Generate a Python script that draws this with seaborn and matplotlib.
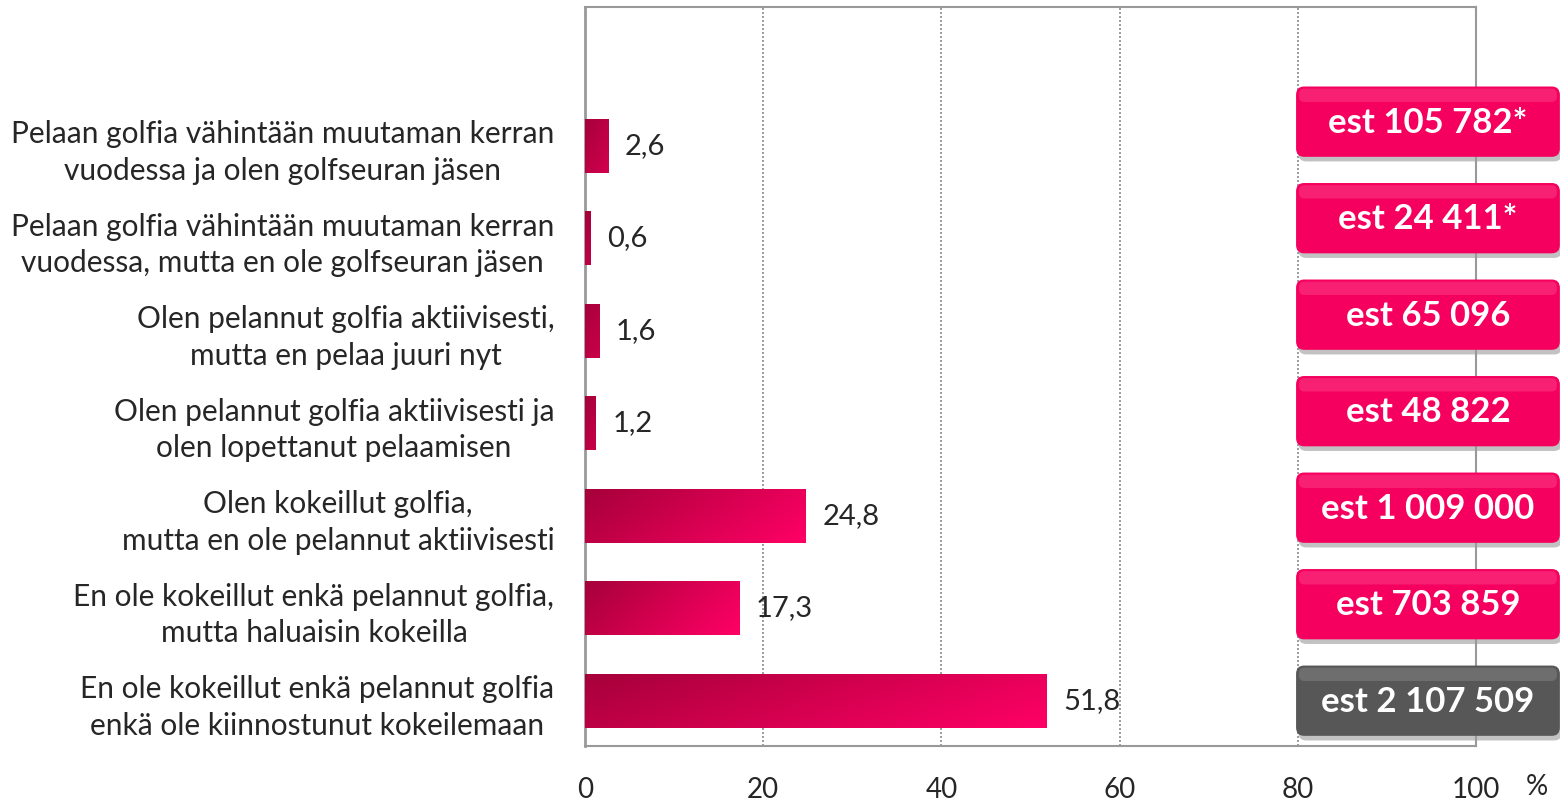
import numpy as np
import pandas as pd
import seaborn as sns
import matplotlib.pyplot as plt
from matplotlib.patches import FancyBboxPatch
from matplotlib.colors import LinearSegmentedColormap

# Data
kategoriat = [
    "Pelaan golfia vähintään muutaman kerran\nvuodessa ja olen golfseuran jäsen",
    "Pelaan golfia vähintään muutaman kerran\nvuodessa, mutta en ole golfseuran jäsen",
    "Olen pelannut golfia aktiivisesti,\nmutta en pelaa juuri nyt",
    "Olen pelannut golfia aktiivisesti ja\nolen lopettanut pelaamisen",
    "Olen kokeillut golfia,\nmutta en ole pelannut aktiivisesti",
    "En ole kokeillut enkä pelannut golfia,\nmutta haluaisin kokeilla",
    "En ole kokeillut enkä pelannut golfia\nenkä ole kiinnostunut kokeilemaan",
]
osuudet = [2.6, 0.6, 1.6, 1.2, 24.8, 17.3, 51.8]
arviot = ["est 105 782*", "est 24 411*", "est 65 096", "est 48 822",
          "est 1 009 000", "est 703 859", "est 2 107 509"]
x_ticks = [0, 20, 40, 60, 80, 100]

df = pd.DataFrame({"kategoria": kategoriat, "osuus": osuudet})

sns.set_style("white")
plt.rcParams['font.family'] = ['Lato', 'DejaVu Sans']

fig = plt.figure(figsize=(15.6, 8.02), dpi=100)
ax = fig.add_axes([0.375, 0.0698, 0.9462 - 0.375, 0.9913 - 0.0698])

sns.barplot(data=df, x="osuus", y="kategoria", orient="h", color="#e8005a",
            width=0.58, ax=ax)

# gradient fill for the bars
cmap = LinearSegmentedColormap.from_list("pinkki", ["#a6003a", "#d4004f", "#ff0066"])
gx, gy = np.meshgrid(np.linspace(0, 1, 200), np.linspace(0, 1, 50))
grad = 0.75 * gx + 0.25 * gy
for p in ax.patches:
    x0, y0 = p.get_x(), p.get_y()
    w, h = p.get_width(), p.get_height()
    img = ax.imshow(grad, extent=(x0, x0 + max(w, 8), y0 + h, y0), cmap=cmap,
                    aspect="auto", origin="upper", zorder=3)
    img.set_clip_path(p)
    p.set_edgecolor("none")
ax.set_xlim(0, 100)
ax.set_ylim(6.49, -1.5)

# value labels
for i, v in enumerate(osuudet):
    ax.annotate(f"{v:.1f}".replace(".", ","), xy=(v, i), xytext=(12, 0),
                textcoords="offset points", ha="left", va="center", fontsize=21)

# est-badges
bx, bw, bh = 79.85, 29.5, 0.75
for i, teksti in enumerate(arviot):
    yc = i - 0.26 * (6 - i) / 6
    harmaa = i == len(arviot) - 1
    vari = "#575757" if harmaa else "#f5005f"
    vaalea = "#9a9a9a" if harmaa else "#ff5c98"
    varjo = FancyBboxPatch((bx + 0.25, yc - bh / 2 + 0.05), bw, bh,
                           boxstyle="round,pad=0.05,rounding_size=0.9",
                           mutation_aspect=0.1, fc="#9a9a9a", ec="none",
                           clip_on=False, zorder=4, alpha=0.6)
    ax.add_patch(varjo)
    laatta = FancyBboxPatch((bx, yc - bh / 2), bw, bh,
                            boxstyle="round,pad=0.05,rounding_size=0.9",
                            mutation_aspect=0.1, fc=vari, ec="none",
                            clip_on=False, zorder=5)
    ax.add_patch(laatta)
    kiilto = FancyBboxPatch((bx + 0.3, yc - bh / 2 + 0.02), bw - 0.6, 0.14,
                            boxstyle="round,pad=0.02,rounding_size=0.6",
                            mutation_aspect=0.1, fc=vaalea, ec="none",
                            clip_on=False, zorder=5, alpha=0.35)
    ax.add_patch(kiilto)
    ax.text(bx + bw / 2, yc + 0.01, teksti, ha="center", va="center", color="white",
            fontsize=25, fontweight="bold", zorder=6, clip_on=False)

# axis styling
ax.set_xticks(x_ticks)
ax.set_xticklabels([str(t) for t in x_ticks], fontsize=20)
ax.tick_params(axis="x", length=0, pad=22)
ax.tick_params(axis="y", length=0, pad=22)
for lbl in ax.get_yticklabels():
    lbl.set_fontsize(21.5)
    lbl.set_multialignment("center")
    lbl.set_linespacing(1.38)
ax.set_xlabel("")
ax.set_ylabel("")
for t in x_ticks[1:-1]:
    ax.axvline(t, color="#8c8c8c", linestyle=(0, (1.2, 1.2)), linewidth=1.2, zorder=1)
for s in ax.spines.values():
    s.set_color("#999999")
    s.set_linewidth(1.5)
    s.set_visible(True)
ax.spines["left"].set_linewidth(2)

fig.text(1537 / 1560, ax.get_position().y0 - 41 / 802, "%", ha="center",
         va="center", fontsize=20)

fig.savefig("out.png", dpi=100)
